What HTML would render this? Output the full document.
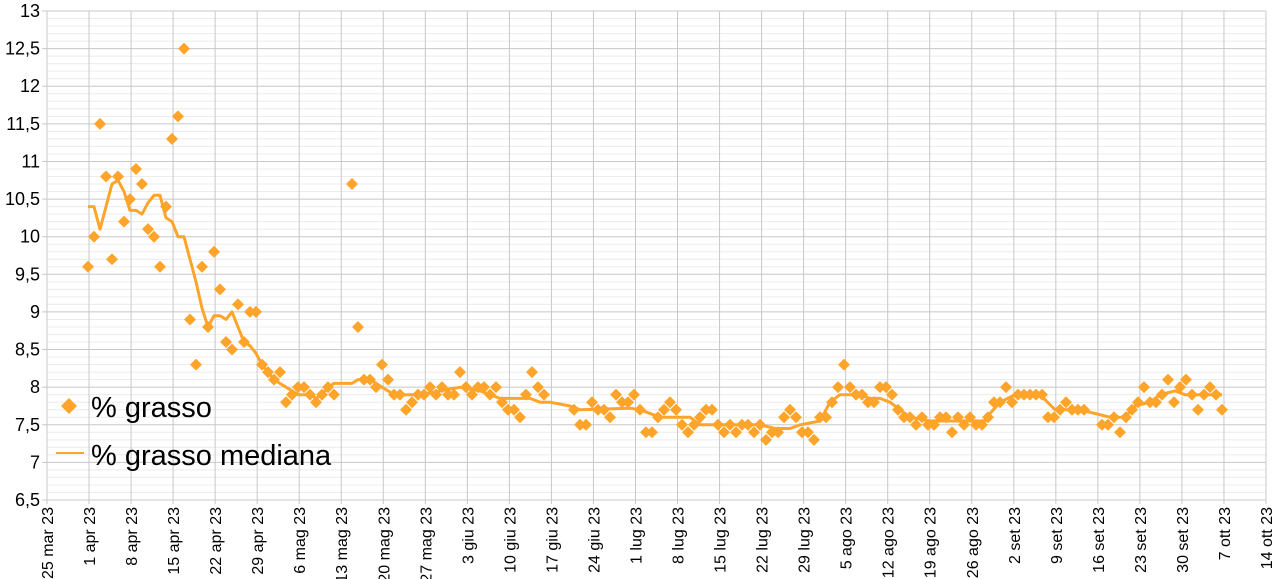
<!DOCTYPE html>
<html><head><meta charset="utf-8"><style>body{margin:0;background:#fff;overflow:hidden}svg{display:block}text{font-family:"Liberation Sans",sans-serif;fill:#000}</style></head>
<body>
<svg id="s" width="1275" height="579" xmlns="http://www.w3.org/2000/svg"></svg>
<script>
const s=document.getElementById('s');let h='';
const X0=47,X1=1266,Y0=11,Y1=500;
const yv=v=>Y0+(13-v)*(Y1-Y0)/6.5;
for(let i=0;i<=65;i++){const y=Y0+i*(Y1-Y0)/65;h+=`<line x1="${X0}" x2="${X1}" y1="${y}" y2="${y}" stroke="${i%5==0?'#c8c8c8':'#ececec'}" stroke-width="1"/>`;}
const lab=['25 mar 23','1 apr 23','8 apr 23','15 apr 23','22 apr 23','29 apr 23','6 mag 23','13 mag 23','20 mag 23','27 mag 23','3 giu 23','10 giu 23','17 giu 23','24 giu 23','1 lug 23','8 lug 23','15 lug 23','22 lug 23','29 lug 23','5 ago 23','12 ago 23','19 ago 23','26 ago 23','2 set 23','9 set 23','16 set 23','23 set 23','30 set 23','7 ott 23','14 ott 23'];
for(let i=0;i<30;i++){const x=X0+i*(X1-X0)/29;h+=`<line x1="${x}" x2="${x}" y1="${Y0}" y2="${Y1+4}" stroke="#c8c8c8"/>`;
h+=`<text transform="translate(${x+6},507) rotate(-90)" text-anchor="end" font-size="16">${lab[i]}</text>`;}
for(let i=0;i<=13;i++){const v=6.5+i*0.5;const t=(v%1==0?v:v.toFixed(1).replace('.',','));h+=`<text x="40" y="${yv(v)+6}" text-anchor="end" font-size="18">${t}</text><line x1="${X0-5}" x2="${X0}" y1="${yv(v)}" y2="${yv(v)}" stroke="#c8c8c8"/>`;}
const pts=[[88,9.6],[94,10],[100,11.5],[106,10.8],[112,9.7],[118,10.8],[124,10.2],[130,10.5],[136,10.9],[142,10.7],[148,10.1],[154,10],[160,9.6],[166,10.4],[172,11.3],[178,11.6],[184,12.5],[190,8.9],[196,8.3],[202,9.6],[208,8.8],[214,9.8],[220,9.3],[226,8.6],[232,8.5],[238,9.1],[244,8.6],[250,9],[256,9],[262,8.3],[268,8.2],[274,8.1],[280,8.2],[286,7.8],[292,7.9],[298,8],[304,8],[310,7.9],[316,7.8],[322,7.9],[328,8],[334,7.9],[352,10.7],[358,8.8],[364,8.1],[370,8.1],[376,8],[382,8.3],[388,8.1],[394,7.9],[400,7.9],[406,7.7],[412,7.8],[418,7.9],[424,7.9],[430,8],[436,7.9],[442,8],[448,7.9],[454,7.9],[460,8.2],[466,8],[472,7.9],[478,8],[484,8],[490,7.9],[496,8],[502,7.8],[508,7.7],[514,7.7],[520,7.6],[526,7.9],[532,8.2],[538,8],[544,7.9],[574,7.7],[580,7.5],[586,7.5],[592,7.8],[598,7.7],[604,7.7],[610,7.6],[616,7.9],[622,7.8],[628,7.8],[634,7.9],[640,7.7],[646,7.4],[652,7.4],[658,7.6],[664,7.7],[670,7.8],[676,7.7],[682,7.5],[688,7.4],[694,7.5],[700,7.6],[706,7.7],[712,7.7],[718,7.5],[724,7.4],[730,7.5],[736,7.4],[742,7.5],[748,7.5],[754,7.4],[760,7.5],[766,7.3],[772,7.4],[778,7.4],[784,7.6],[790,7.7],[796,7.6],[802,7.4],[808,7.4],[814,7.3],[820,7.6],[826,7.6],[832,7.8],[838,8],[844,8.3],[850,8],[856,7.9],[862,7.9],[868,7.8],[874,7.8],[880,8],[886,8],[892,7.9],[898,7.7],[904,7.6],[910,7.6],[916,7.5],[922,7.6],[928,7.5],[934,7.5],[940,7.6],[946,7.6],[952,7.4],[958,7.6],[964,7.5],[970,7.6],[976,7.5],[982,7.5],[988,7.6],[994,7.8],[1000,7.8],[1006,8],[1012,7.8],[1018,7.9],[1024,7.9],[1030,7.9],[1036,7.9],[1042,7.9],[1048,7.6],[1054,7.6],[1060,7.7],[1066,7.8],[1072,7.7],[1078,7.7],[1084,7.7],[1102,7.5],[1108,7.5],[1114,7.6],[1120,7.4],[1126,7.6],[1132,7.7],[1138,7.8],[1144,8],[1150,7.8],[1156,7.8],[1162,7.9],[1168,8.1],[1174,7.8],[1180,8],[1186,8.1],[1192,7.9],[1198,7.7],[1204,7.9],[1210,8],[1216,7.9],[1222,7.7]];
const med=[[88,10.4],[94,10.4],[100,10.1],[106,10.4],[112,10.7],[118,10.75],[124,10.6],[130,10.35],[136,10.35],[142,10.3],[148,10.45],[154,10.55],[160,10.55],[166,10.25],[172,10.2],[178,10],[184,10],[190,9.7],[196,9.4],[202,9.05],[208,8.8],[214,8.95],[220,8.95],[226,8.9],[232,9],[238,8.8],[244,8.6],[250,8.55],[256,8.45],[262,8.3],[268,8.2],[274,8.1],[280,8.05],[286,8],[292,7.95],[298,7.9],[310,7.9],[316,7.85],[322,7.9],[328,8],[334,8.05],[352,8.05],[358,8.1],[370,8.1],[376,8.05],[382,8],[388,7.95],[394,7.9],[420,7.9],[440,7.95],[460,8],[480,7.95],[490,7.9],[500,7.85],[530,7.85],[540,7.8],[550,7.8],[570,7.75],[580,7.7],[630,7.72],[640,7.7],[660,7.6],[690,7.6],[700,7.5],[760,7.5],[775,7.45],[790,7.45],[800,7.5],[820,7.55],[830,7.8],[840,7.9],[860,7.9],[870,7.85],[880,7.85],[890,7.8],[900,7.7],[910,7.6],[930,7.55],[985,7.55],[990,7.65],[1000,7.8],[1015,7.9],[1040,7.9],[1055,7.7],[1080,7.7],[1095,7.65],[1110,7.6],[1125,7.6],[1135,7.75],[1150,7.8],[1160,7.9],[1175,7.95],[1185,7.9],[1222,7.9]];
h+=`<polyline fill="none" stroke="#ffa42b" stroke-width="3" stroke-linejoin="round" points="${med.map(p=>p[0]+','+yv(p[1]).toFixed(1)).join(' ')}"/>`;
for(const p of pts){const x=p[0],y=yv(p[1]);h+=`<path d="M${x} ${y-6}L${x+6} ${y}L${x} ${y+6}L${x-6} ${y}Z" fill="#ffa42b"/>`;}
h+=`<path d="M69 398L77 406L69 414L61 406Z" fill="#ffa42b"/><text x="91" y="417" font-size="29">% grasso</text>`;
h+=`<line x1="56" x2="84" y1="453" y2="453" stroke="#ffa42b" stroke-width="2"/><text x="91" y="465" font-size="29">% grasso mediana</text>`;
s.innerHTML=h;
</script>
</body></html>
